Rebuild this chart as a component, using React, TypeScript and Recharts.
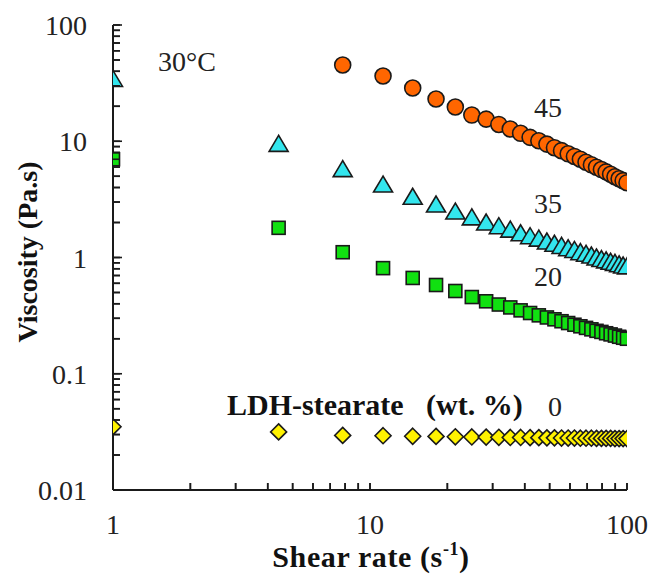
import React from 'react';
import { ScatterChart, Scatter, XAxis, YAxis } from 'recharts';

// Shear rate (1/s)
const shearRate = [1, 4.41, 7.83, 11.24, 14.66, 18.07, 21.48, 24.9, 28.31, 31.72, 35.14, 38.55, 41.97, 45.38, 48.79, 52.21, 55.62, 59.03, 62.45, 65.86, 69.28, 72.69, 76.1, 79.52, 82.93, 86.34, 89.76, 93.17, 96.59, 100];

// Viscosity (Pa.s) by LDH-stearate wt.%
const visc45: (number | null)[] = [null, null, 45.3, 36.4, 28.7, 23.1, 19.7, 16.8, 15.5, 13.95, 12.75, 11.7, 10.8, 10.1, 9.45, 8.8, 8.3, 7.8, 7.4, 7.0, 6.6, 6.27, 5.98, 5.71, 5.45, 5.2, 4.95, 4.76, 4.58, 4.4];
const visc35: (number | null)[] = [34, 9.4, 5.7, 4.2, 3.3, 2.83, 2.46, 2.19, 1.98, 1.84, 1.72, 1.6, 1.51, 1.44, 1.36, 1.3, 1.245, 1.19, 1.15, 1.1, 1.065, 1.03, 0.99, 0.96, 0.935, 0.91, 0.89, 0.865, 0.845, 0.83];
const visc20: (number | null)[] = [7.0, 1.8, 1.11, 0.81, 0.667, 0.58, 0.515, 0.457, 0.42, 0.394, 0.372, 0.351, 0.333, 0.318, 0.305, 0.294, 0.283, 0.273, 0.264, 0.256, 0.248, 0.241, 0.234, 0.229, 0.223, 0.218, 0.213, 0.208, 0.204, 0.2];
const visc0: (number | null)[] = [0.035, 0.0316, 0.0295, 0.0293, 0.029, 0.0289, 0.0287, 0.0286, 0.0285, 0.0284, 0.0283, 0.0283, 0.0282, 0.0282, 0.0281, 0.0281, 0.028, 0.028, 0.028, 0.0279, 0.0279, 0.0279, 0.0278, 0.0278, 0.0278, 0.0278, 0.0277, 0.0277, 0.0277, 0.0277];

// Axis ticks
const xMajor = [1, 10, 100];
const xTicks = [1, 2, 3, 4, 5, 6, 7, 8, 9, 10, 20, 30, 40, 50, 60, 70, 80, 90, 100];
const yMajor = [0.01, 0.1, 1, 10, 100];
const yTicks = [0.01, 0.02, 0.03, 0.04, 0.05, 0.06, 0.07, 0.08, 0.09, 0.1, 0.2, 0.3, 0.4, 0.5, 0.6, 0.7, 0.8, 0.9, 1, 2, 3, 4, 5, 6, 7, 8, 9, 10, 20, 30, 40, 50, 60, 70, 80, 90, 100];

const toPoints = (vals: (number | null)[]) =>
  shearRate.map((x, i) => ({ x, y: vals[i] })).filter((p) => p.y != null);

const FONT = '"Liberation Serif", "Times New Roman", serif';
const INK = '#1a1a1a';
const TICK = 7;

// bottom axis: props.y = axisY - TICK (tick drawn inward)
const XTick = (props: any) => {
  const { x, y, payload } = props;
  const axisY = y + TICK;
  const major = xMajor.includes(payload.value);
  return (
    <g>
      <line x1={x} y1={axisY} x2={x} y2={axisY - TICK} stroke={INK} strokeWidth={1.6} />
      {major && (
        <text x={x} y={axisY + 44} textAnchor="middle" fontSize={28} fontFamily={FONT} fill="#222">
          {payload.value}
        </text>
      )}
    </g>
  );
};

// left axis: props.x = axisX + TICK (tick drawn inward)
const YTick = (props: any) => {
  const { x, y, payload } = props;
  const axisX = x - TICK;
  const major = yMajor.includes(payload.value);
  return (
    <g>
      <line x1={axisX} y1={y} x2={axisX + (major ? 9 : TICK)} y2={y} stroke={INK} strokeWidth={1.6} />
      {major && (
        <text x={axisX - 26} y={y + 10} textAnchor="end" fontSize={28} fontFamily={FONT} fill="#222">
          {String(payload.value)}
        </text>
      )}
    </g>
  );
};

const Circle = (p: any) => (
  <circle cx={p.cx} cy={p.cy} r={8} fill="#FF6600" stroke={INK} strokeWidth={1.6} />
);
const Triangle = (p: any) => (
  <polygon
    points={`${p.cx},${p.cy - 9} ${p.cx - 9.5},${p.cy + 7} ${p.cx + 9.5},${p.cy + 7}`}
    fill="#33E6EE"
    stroke={INK}
    strokeWidth={1.6}
  />
);
const Square = (p: any) => (
  <rect x={p.cx - 6.5} y={p.cy - 6.5} width={13} height={13} fill="#11E011" stroke={INK} strokeWidth={1.6} />
);
const Diamond = (p: any) => (
  <polygon
    points={`${p.cx},${p.cy - 8} ${p.cx + 8},${p.cy} ${p.cx},${p.cy + 8} ${p.cx - 8},${p.cy}`}
    fill="#FFF200"
    stroke={INK}
    strokeWidth={1.6}
  />
);

export default function App() {
  return (
    <div style={{ position: 'absolute', left: 0, top: 0, width: 651, height: 574, background: '#fff' }}>
      <ScatterChart width={651} height={574} margin={{ top: 25, right: 24, left: 0, bottom: 0 }}>
        <XAxis
          dataKey="x"
          type="number"
          scale="log"
          domain={[1, 100]}
          ticks={xTicks}
          interval={0}
          height={84}
          tickSize={-TICK}
          tickMargin={0}
          tickLine={{ stroke: INK, strokeWidth: 1.6 }}
          tick={<XTick />}
          axisLine={{ stroke: INK, strokeWidth: 2 }}
          allowDataOverflow
        />
        <XAxis
          xAxisId="top"
          orientation="top"
          type="number"
          scale="log"
          domain={[1, 100]}
          height={0}
          tick={false}
          tickLine={false}
          axisLine={{ stroke: INK, strokeWidth: 2 }}
          allowDataOverflow
        />
        <YAxis
          dataKey="y"
          type="number"
          scale="log"
          domain={[0.01, 100]}
          ticks={yTicks}
          interval={0}
          width={113}
          tickSize={-TICK}
          tickMargin={0}
          tickLine={{ stroke: INK, strokeWidth: 1.6 }}
          tick={<YTick />}
          axisLine={{ stroke: INK, strokeWidth: 2 }}
          allowDataOverflow
        />
        <YAxis
          yAxisId="right"
          orientation="right"
          type="number"
          scale="log"
          domain={[0.01, 100]}
          width={0}
          tick={false}
          tickLine={false}
          axisLine={{ stroke: INK, strokeWidth: 2 }}
          allowDataOverflow
        />
        <Scatter name="0" data={toPoints(visc0)} shape={Diamond} isAnimationActive={false} />
        <Scatter name="20" data={toPoints(visc20)} shape={Square} isAnimationActive={false} />
        <Scatter name="35" data={toPoints(visc35)} shape={Triangle} isAnimationActive={false} />
        <Scatter name="45" data={toPoints(visc45)} shape={Circle} isAnimationActive={false} />
      </ScatterChart>
      <svg
        width={651}
        height={574}
        style={{ position: 'absolute', left: 0, top: 0, pointerEvents: 'none' }}
        fontFamily={FONT}
      >
        <text x={158} y={71} fontSize={28} fill="#222">30°C</text>
        <text x={548} y={117} fontSize={28} fill="#222" textAnchor="middle">45</text>
        <text x={548} y={213} fontSize={28} fill="#222" textAnchor="middle">35</text>
        <text x={548} y={286} fontSize={28} fill="#222" textAnchor="middle">20</text>
        <text x={548} y={416} fontSize={28} fill="#222">0</text>
        <text x={227} y={415} fontSize={30} fontWeight="bold" fill="#111" style={{ whiteSpace: 'pre' }}>
          {'LDH-stearate   (wt. %)'}
        </text>
        <text
          transform="translate(37,252) rotate(-90)"
          textAnchor="middle"
          fontSize={28}
          fontWeight="bold"
          fill="#111"
        >
          Viscosity (Pa.s)
        </text>
        <text x={371} y={567} textAnchor="middle" fontSize={30} fontWeight="bold" fill="#111" letterSpacing={0.6}>
          Shear rate (s
          <tspan fontSize={18} dy={-12}>-1</tspan>
          <tspan dy={12}>)</tspan>
        </text>
      </svg>
    </div>
  );
}
